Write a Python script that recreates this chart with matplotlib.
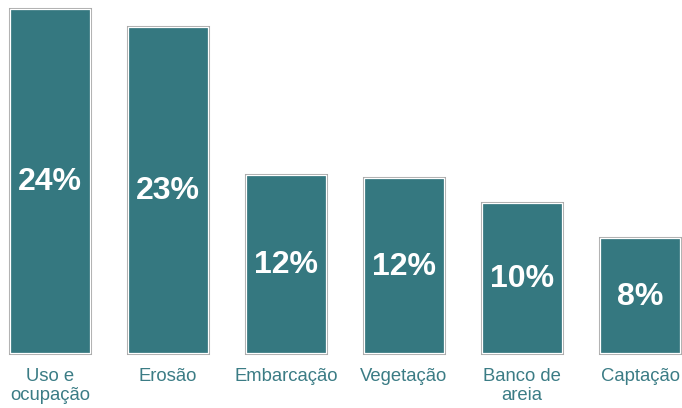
import matplotlib.pyplot as plt
import numpy as np

categories = ["Uso e\nocupação", "Erosão", "Embarcação", "Vegetação", "Banco de\nareia", "Captação"]
values = [24.0, 22.7, 12.4, 12.2, 10.4, 8.0]
value_labels = ["24%", "23%", "12%", "12%", "10%", "8%"]

BAR_COLOR = "#357880"
TEXT_COLOR = "#3b7c85"

plt.rcParams["font.family"] = ["Liberation Sans", "DejaVu Sans"]

fig = plt.figure(figsize=(6.82, 4.08), dpi=100)
ax = fig.add_axes([0, 0.136, 1, 0.843])

x = np.arange(len(categories))
# gray outer outline, then a thin white inner line over the same bars
outer = ax.bar(x, values, width=0.678, color=BAR_COLOR, edgecolor="#a9a9a9", linewidth=2.2)
inner = ax.bar(x, values, width=0.678, color=BAR_COLOR, edgecolor="white", linewidth=0.9)
for b in list(outer) + list(inner):
    b.set_clip_on(False)

for xi, v, lab in zip(x, values, value_labels):
    ax.text(xi, v / 2 - 0.1, lab, ha="center", va="center", color="white",
            fontsize=23, fontweight="bold")

ax.set_xlim(-0.4217, 5.354)
ax.set_ylim(0, 24)
ax.set_xticks(x, categories)
ax.tick_params(axis="x", length=0, pad=11, labelsize=13.3, labelcolor=TEXT_COLOR)
ax.set_yticks([])
for spine in ax.spines.values():
    spine.set_visible(False)

fig.savefig("out.png", dpi=100)
